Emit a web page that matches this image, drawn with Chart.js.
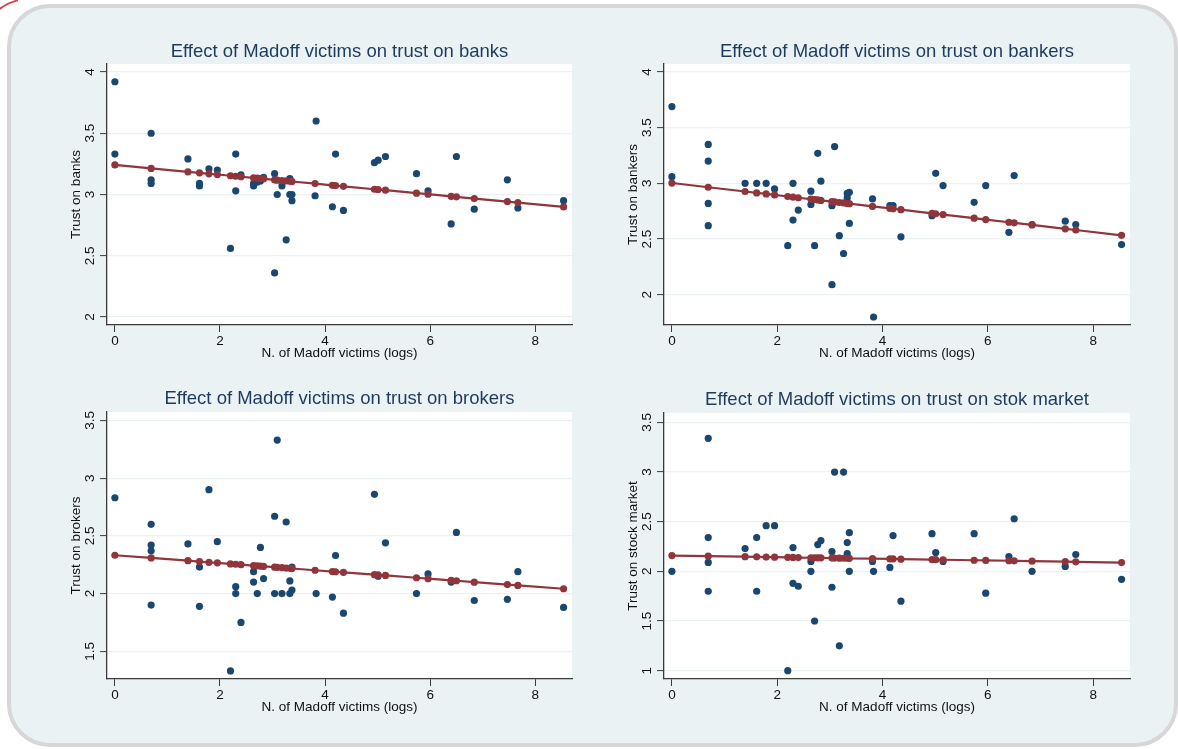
<!DOCTYPE html>
<html>
<head>
<meta charset="utf-8">
<script src="https://cdn.jsdelivr.net/npm/chart.js"></script>
<style>
  html, body { margin: 0; padding: 0; background: #ffffff; width: 1178px; height: 749px; overflow: hidden; position: relative; }
  .card { position: absolute; left: 7px; top: 4px; width: 1171px; height: 743px; box-sizing: border-box;
          background: #EAF2F3; border: 4.5px solid #D7D7D7; border-radius: 43px; }
  .arcclip { position: absolute; left: 0; top: 0; width: 18px; height: 12px; overflow: hidden; }
  .arc { position: absolute; left: -22px; top: -2px; width: 104px; height: 104px; border: 2px solid #D9484F; border-radius: 50%; box-sizing: border-box; }
  canvas { position: absolute; }
</style>
</head>
<body>
<div class="arcclip"><div class="arc"></div></div>
<div class="card"></div>
<canvas id="c1"></canvas>
<canvas id="c2"></canvas>
<canvas id="c3"></canvas>
<canvas id="c4"></canvas>
<script>
// ---------- data ----------
const xTitle = "N. of Madoff victims (logs)";
const xTicks = [0, 2, 4, 6, 8];

// distinct x values where fitted values are plotted
const fitX = [0, 0.69, 1.39, 1.61, 1.79, 1.95, 2.2, 2.3, 2.4, 2.64, 2.71, 2.77, 2.83, 3.04, 3.09, 3.18, 3.26, 3.33, 3.37, 3.81, 4.14, 4.2, 4.35, 4.94, 5.01, 5.15, 5.74, 5.96, 6.4, 6.5, 6.84, 7.47, 7.67, 8.54];

// Panel 1: banks
const banksX = [0, 0, 0.69, 0.69, 0.69, 1.39, 1.61, 1.61, 1.79, 1.95, 2.2, 2.3, 2.3, 2.4, 2.64, 2.64, 2.71, 2.77, 2.83, 3.04, 3.09, 3.04, 3.18, 3.26, 3.33, 3.33, 3.37, 3.37, 3.81, 3.83, 4.14, 4.2, 4.35, 4.94, 5.01, 5.15, 5.74, 5.96, 6.4, 6.5, 6.84, 7.47, 7.67, 8.54];
const banksY = [3.92, 3.33, 3.50, 3.12, 3.09, 3.29, 3.09, 3.07, 3.21, 3.20, 2.56, 3.33, 3.03, 3.16, 3.09, 3.07, 3.10, 3.11, 3.14, 3.17, 3.00, 2.36, 3.07, 2.63, 3.13, 3.00, 3.00, 2.95, 2.99, 3.60, 2.90, 3.33, 2.87, 3.26, 3.28, 3.31, 3.17, 3.03, 2.76, 3.31, 2.88, 3.12, 2.89, 2.95];
const banksFit = [3.241, 3.213, 3.185, 3.177, 3.169, 3.163, 3.153, 3.149, 3.145, 3.135, 3.133, 3.130, 3.128, 3.119, 3.117, 3.114, 3.111, 3.108, 3.106, 3.089, 3.075, 3.073, 3.067, 3.043, 3.041, 3.035, 3.011, 3.003, 2.985, 2.981, 2.967, 2.942, 2.934, 2.899];
const banksTicks = [2, 2.5, 3, 3.5, 4];

// Panel 2: bankers
const bankersX = [0, 0, 0.69, 0.69, 0.69, 0.69, 1.39, 1.61, 1.79, 1.95, 2.2, 2.3, 2.3, 2.4, 2.64, 2.64, 2.71, 2.77, 2.83, 3.04, 3.04, 3.09, 3.18, 3.26, 3.33, 3.37, 3.33, 3.37, 3.81, 3.83, 4.14, 4.2, 4.35, 4.94, 5.01, 5.15, 5.74, 5.96, 6.4, 6.5, 6.84, 7.47, 7.67, 8.54];
const bankersY = [3.69, 3.06, 3.35, 3.20, 2.82, 2.62, 3.00, 3.00, 3.00, 2.95, 2.44, 3.00, 2.67, 2.76, 2.93, 2.81, 2.44, 3.27, 3.02, 2.80, 2.09, 3.33, 2.53, 2.37, 2.91, 2.92, 2.87, 2.64, 2.86, 1.80, 2.80, 2.80, 2.52, 2.71, 3.09, 2.98, 2.83, 2.98, 2.56, 3.07, 2.63, 2.66, 2.63, 2.45];
const bankersFit = [3.003, 2.965, 2.927, 2.914, 2.905, 2.896, 2.882, 2.877, 2.871, 2.858, 2.854, 2.851, 2.847, 2.836, 2.833, 2.828, 2.824, 2.820, 2.818, 2.793, 2.775, 2.772, 2.764, 2.731, 2.727, 2.720, 2.687, 2.675, 2.651, 2.646, 2.627, 2.592, 2.581, 2.533];
const bankersTicks = [2, 2.5, 3, 3.5, 4];

// Panel 3: brokers
const brokersX = [0, 0.69, 0.69, 0.69, 0.69, 1.39, 1.61, 1.61, 1.79, 1.95, 2.2, 2.3, 2.3, 2.4, 2.64, 2.64, 2.71, 2.77, 2.83, 3.04, 3.04, 3.09, 3.18, 3.26, 3.33, 3.33, 3.37, 3.37, 3.83, 4.14, 4.2, 4.35, 4.94, 5.01, 5.15, 5.74, 5.96, 6.4, 6.5, 6.84, 7.47, 7.67, 8.54];
const brokersY = [2.83, 2.60, 2.42, 2.37, 1.90, 2.43, 2.23, 1.89, 2.90, 2.45, 1.33, 2.06, 2.00, 1.75, 2.19, 2.10, 2.00, 2.40, 2.13, 2.67, 2.00, 3.33, 2.00, 2.62, 2.11, 2.00, 2.03, 2.23, 2.00, 1.97, 2.33, 1.83, 2.86, 2.15, 2.44, 2.00, 2.17, 2.10, 2.53, 1.94, 1.95, 2.19, 1.88];
const brokersFit = [2.332, 2.309, 2.285, 2.277, 2.271, 2.266, 2.257, 2.254, 2.250, 2.242, 2.240, 2.238, 2.236, 2.229, 2.227, 2.224, 2.221, 2.219, 2.217, 2.202, 2.191, 2.189, 2.184, 2.164, 2.162, 2.157, 2.137, 2.129, 2.114, 2.111, 2.099, 2.078, 2.071, 2.042];
const brokersTicks = [1.5, 2, 2.5, 3, 3.5];

// Panel 4: stock market
const stockX = [0, 0.69, 0.69, 0.69, 0.69, 1.39, 1.61, 1.61, 1.79, 1.95, 2.2, 2.3, 2.3, 2.4, 2.64, 2.64, 2.71, 2.77, 2.83, 3.04, 3.04, 3.09, 3.18, 3.26, 3.33, 3.33, 3.37, 3.37, 3.81, 3.83, 4.14, 4.2, 4.35, 4.94, 5.01, 5.15, 5.74, 5.96, 6.4, 6.5, 6.84, 7.47, 7.67, 8.54];
const stockY = [2.00, 3.34, 2.34, 2.09, 1.80, 2.23, 2.34, 1.80, 2.46, 2.46, 1.00, 2.24, 1.88, 1.85, 2.10, 2.00, 1.50, 2.27, 2.31, 2.20, 1.84, 3.00, 1.25, 3.00, 2.29, 2.18, 2.39, 2.00, 2.10, 2.00, 2.04, 2.36, 1.70, 2.38, 2.19, 2.10, 2.38, 1.78, 2.15, 2.53, 2.00, 2.05, 2.17, 1.92];
const stockFit = [2.159, 2.153, 2.148, 2.146, 2.144, 2.143, 2.141, 2.140, 2.139, 2.137, 2.137, 2.136, 2.136, 2.134, 2.134, 2.133, 2.132, 2.132, 2.131, 2.128, 2.125, 2.125, 2.123, 2.119, 2.118, 2.117, 2.112, 2.110, 2.107, 2.106, 2.103, 2.098, 2.096, 2.089];
const stockTicks = [1, 1.5, 2, 2.5, 3, 3.5];

// ---------- styles ----------
const BLUE = '#1A476F';
const RED = '#90353B';
const TITLE_COLOR = '#1E3A5F';
const AXIS_COLOR = '#3A3A3A';
const GRID_COLOR = '#EAF2F3';
const FONT = '"Liberation Sans", Arial, Helvetica, sans-serif';

const whitePlot = {
  id: 'whitePlot',
  beforeDraw(chart) {
    const a = chart.chartArea, ctx = chart.ctx;
    ctx.save();
    ctx.fillStyle = '#ffffff';
    ctx.fillRect(a.left, a.top, a.right - a.left, a.bottom - a.top);
    ctx.restore();
  }
};

function makePanel(id, p) {
  const c = document.getElementById(id);
  const Y_W = 50, X_H = 47, RIGHT_PAD = 10, T_PAD_TOP = 5, T_LH = 18.5 * 1.2;
  const left = p.axisX - Y_W;
  const top = Math.round(p.titleY - T_LH / 2 - T_PAD_TOP);
  const width = p.plotRight + RIGHT_PAD - left;
  const height = p.plotBottom + X_H - top;
  c.style.left = left + 'px';
  c.style.top = top + 'px';
  c.width = width; c.height = height;
  c.style.width = width + 'px'; c.style.height = height + 'px';
  const titlePadBottom = Math.max(0, p.plotTop - top - T_PAD_TOP - T_LH);
  const tickFont = { family: FONT, size: 13.5 };

  new Chart(c, {
    type: 'scatter',
    data: {
      datasets: [
        {
          data: fitX.map((x, i) => ({ x: x, y: p.fit[i] })),
          showLine: true, borderColor: RED, borderWidth: 2.2,
          pointRadius: 3.6, pointBackgroundColor: RED, pointBorderWidth: 0
        },
        {
          data: p.xs.map((x, i) => ({ x: x, y: p.ys[i] })),
          pointRadius: 3.6, pointBackgroundColor: BLUE, backgroundColor: BLUE,
          pointBorderWidth: 0, borderWidth: 0
        }
      ]
    },
    options: {
      responsive: false, animation: false, devicePixelRatio: 1,
      events: [],
      layout: { padding: { left: 0, right: RIGHT_PAD, top: 0, bottom: 0 } },
      plugins: {
        legend: { display: false },
        tooltip: { enabled: false },
        title: {
          display: true, text: p.title, color: TITLE_COLOR, fullSize: false,
          font: { family: FONT, size: 18.5, weight: 'normal' },
          padding: { top: T_PAD_TOP, bottom: titlePadBottom }
        }
      },
      scales: {
        x: {
          type: 'linear', min: -0.15, max: 8.70,
          afterBuildTicks: s => { s.ticks = xTicks.map(v => ({ value: v })); },
          afterFit: s => { s.height = X_H; },
          grid: { drawOnChartArea: false, drawTicks: true, tickLength: 7, tickColor: AXIS_COLOR, tickWidth: 1 },
          border: { display: true, color: AXIS_COLOR, width: 1.3 },
          ticks: { padding: 1, color: '#111', font: tickFont, maxRotation: 0, autoSkip: false, callback: v => String(v) },
          title: { display: true, text: xTitle, color: '#111', font: tickFont, padding: { top: 0, bottom: 10.4 } }
        },
        y: {
          type: 'linear', min: p.ymin, max: p.ymax,
          afterBuildTicks: s => { s.ticks = p.ticks.map(v => ({ value: v })); },
          afterFit: s => { s.width = Y_W; },
          grid: { color: GRID_COLOR, lineWidth: 1.2, drawTicks: true, tickLength: 7, tickColor: AXIS_COLOR, tickWidth: 1 },
          border: { display: true, color: AXIS_COLOR, width: 1.3 },
          ticks: { minRotation: 90, maxRotation: 90, crossAlign: 'center', padding: 0, color: '#111', font: tickFont, autoSkip: false, callback: v => String(v) },
          title: { display: true, text: p.yTitle, color: '#111', font: tickFont, padding: { top: 10.8, bottom: 0 } }
        }
      }
    },
    plugins: [whitePlot]
  });
}

makePanel('c1', { title: 'Effect of Madoff victims on trust on banks', yTitle: 'Trust on banks',
  xs: banksX, ys: banksY, fit: banksFit, ticks: banksTicks, ymin: 1.935, ymax: 4.065,
  axisX: 107, plotRight: 572, plotTop: 64, plotBottom: 325, titleY: 52 });
makePanel('c2', { title: 'Effect of Madoff victims on trust on bankers', yTitle: 'Trust on bankers',
  xs: bankersX, ys: bankersY, fit: bankersFit, ticks: bankersTicks, ymin: 1.728, ymax: 4.072,
  axisX: 664, plotRight: 1130, plotTop: 64, plotBottom: 325, titleY: 52 });
makePanel('c3', { title: 'Effect of Madoff victims on trust on brokers', yTitle: 'Trust on brokers',
  xs: brokersX, ys: brokersY, fit: brokersFit, ticks: brokersTicks, ymin: 1.26, ymax: 3.573,
  axisX: 107, plotRight: 572, plotTop: 412, plotBottom: 679, titleY: 399.5 });
makePanel('c4', { title: 'Effect of Madoff victims on trust on stok market', yTitle: 'Trust on stock market',
  xs: stockX, ys: stockY, fit: stockFit, ticks: stockTicks, ymin: 0.916, ymax: 3.595,
  axisX: 664, plotRight: 1130, plotTop: 413, plotBottom: 679, titleY: 400.5 });
</script>
</body>
</html>
